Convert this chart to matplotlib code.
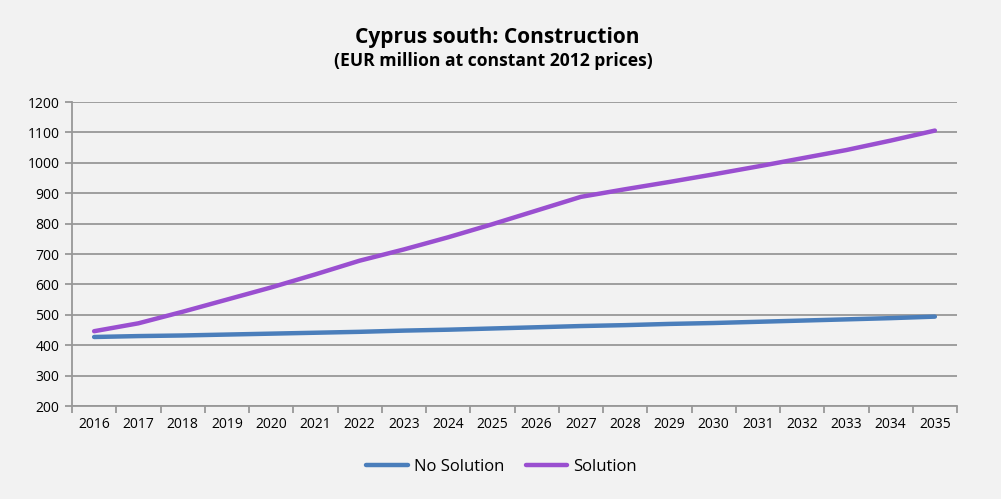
import matplotlib.pyplot as plt

years = [str(y) for y in range(2016, 2036)]
no_solution = [427, 430, 432, 435, 438, 441, 444, 448, 451, 455,
               459, 463, 466, 470, 473, 477, 481, 485, 489, 494]
solution = [446, 472, 510, 550, 590, 633, 678, 715, 755, 798,
            843, 888, 913, 937, 962, 988, 1015, 1042, 1073, 1106]

plt.rcParams['font.family'] = ['Open Sans', 'DejaVu Sans']
bg = '#f2f2f2'

fig = plt.figure(figsize=(10.01, 4.99), dpi=100, facecolor=bg)
ax = fig.add_axes([72/1001, 1 - 406/499, 885/1001, 304/499], facecolor=bg)

x = list(range(len(years)))
ax.plot(x, no_solution, color='#4a7ebb', lw=3.2, solid_capstyle='round', label='No Solution')
ax.plot(x, solution, color='#9a4fd0', lw=3.2, solid_capstyle='round', label='Solution')

ax.set_xlim(-0.5, len(years) - 0.5)
ax.set_ylim(200, 1200)
ax.set_yticks(range(200, 1201, 100))
ax.yaxis.grid(True, color='#989898', lw=1.3)
ax.set_axisbelow(True)

# category labels in the middle, tick marks between them
ax.set_xticks(x)
ax.set_xticklabels(years, fontsize=10)
ax.tick_params(axis='x', length=0, pad=8)
ax.set_xticks([i - 0.5 for i in range(len(years) + 1)], minor=True)
ax.tick_params(axis='x', which='minor', length=5, width=1.3, color='#989898')
ax.tick_params(axis='y', length=5, width=1.3, color='#989898', labelsize=10, pad=4)

for s in ['top', 'right']:
    ax.spines[s].set_visible(False)
for s in ['left', 'bottom']:
    ax.spines[s].set_color('#989898')
    ax.spines[s].set_linewidth(1.3)

fig.text(0.497, 1 - 37/499, 'Cyprus south: Construction', ha='center', va='center',
         fontsize=15, fontweight='bold')
fig.text(0.493, 1 - 61/499, '(EUR million at constant 2012 prices)', ha='center', va='center',
         fontsize=12.6, fontweight='bold')

fig.legend(loc='center', bbox_to_anchor=(0.501, 1 - 467/499), ncol=2, frameon=False,
           fontsize=12, handlelength=2.5, columnspacing=1.3, handletextpad=0.35)

fig.savefig('out.png', dpi=100, facecolor=bg)
